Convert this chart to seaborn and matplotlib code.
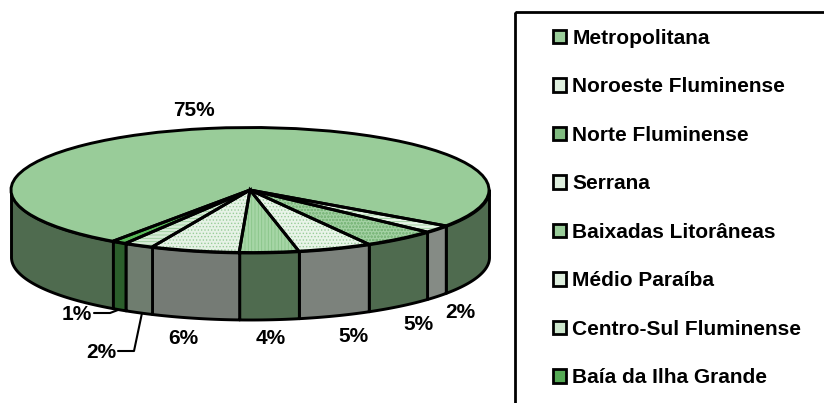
import numpy as np
import matplotlib
matplotlib.use("Agg")
import matplotlib.pyplot as plt
from matplotlib.patches import Patch, Rectangle
import seaborn as sns

regions = ["Metropolitana", "Noroeste Fluminense", "Norte Fluminense", "Serrana",
           "Baixadas Litorâneas", "Médio Paraíba", "Centro-Sul Fluminense", "Baía da Ilha Grande"]
shares = [75, 2, 5, 5, 4, 6, 2, 1]
share_labels = ["75%", "2%", "5%", "5%", "4%", "6%", "2%", "1%"]
top_colors = ["#99CC99", "#E6F4E6", "#A3D1A3", "#E8F4E8", "#A6D6A6", "#E6F2E6", "#D6EBD6", "#5ABB5A"]
side_colors = ["#4F6B4F", "#858B85", "#4F6B4F", "#7C827C", "#4F6B4F", "#757B75", "#6F7D6F", "#2B5E2B"]
top_hatches = [None, "-----", "ooooo", ".....", "|||||", ".....", "-----", None]
hatch_colors = ["#99CC99", "#99CC99", "#7DB87D", "#99CC99", "#88C488", "#99CC99", "#99CC99", "#3C9C3C"]
handle_colors = ["#99CC99", "#DDEEDD", "#80BB80", "#DDEEDD", "#99CC99", "#DDEEDD", "#CCE6CC", "#55AA55"]
label_xy = [(194, 110), (460, 313), (418, 325), (353, 336), (271, 339), (183, 338), (101, 352), (77, 314)]

W, H = 824, 403
CX, CY, RX, RY, DEPTH = 250, 190, 239, 62.5, 67
START = -125
EDGE = 2.1

sns.set_theme(style="white")
plt.rcParams["font.family"] = ["Liberation Sans"]
plt.rcParams["font.weight"] = "bold"
plt.rcParams["hatch.linewidth"] = 0.6

fig = plt.figure(figsize=(W / 100, H / 100), dpi=100, facecolor="white")
ax = fig.add_axes([0, 0, 1, 1])

# side wall, from the same slice shares
depth = DEPTH / RY
cum = np.cumsum([0] + shares) * 3.6
for i, s in enumerate(shares):
    a0, a1 = START - cum[i], START - cum[i + 1]   # clockwise
    for k in (0, -360):
        hi = min(a0, 0 + k)
        lo = max(a1, -180 + k)
        if hi <= lo:
            continue
        t = np.radians(np.linspace(lo, hi, 80))
        ax.fill_between(np.cos(t), np.sin(t), np.sin(t) - depth,
                        facecolor=side_colors[i], edgecolor="black", linewidth=EDGE, zorder=1)

# top face
wedges, _ = ax.pie(shares, colors=top_colors, startangle=START, counterclock=False,
                   wedgeprops=dict(linewidth=0))
hatched, _ = ax.pie(shares, colors=top_colors, startangle=START, counterclock=False,
                    wedgeprops=dict(linewidth=0))
for w, h, c in zip(hatched, top_hatches, hatch_colors):
    w.set_facecolor("none")
    w.set_edgecolor(c)
    w.set_hatch(h)
    w.set_linewidth(0)
outline, _ = ax.pie(shares, startangle=START, counterclock=False,
                    wedgeprops=dict(linewidth=EDGE, edgecolor="black", facecolor="none"))
for group in (wedges, hatched, outline):
    for w in group:
        w.set_zorder(3)
ax.set_aspect("auto")
ax.set_xlim(-CX / RX, (W - CX) / RX)
ax.set_ylim(-(H - CY) / RY, CY / RY)
ax.axis("off")

# overlay in pixel units for labels and legend
ov = fig.add_axes([0, 0, 1, 1], facecolor="none")
ov.set_xlim(0, W)
ov.set_ylim(H, 0)
ov.axis("off")
FS = 15
for txt, (x, y) in zip(share_labels, label_xy):
    ov.text(x, y, txt, ha="center", va="center", fontsize=FS, fontweight="bold", color="black")
ov.plot([94, 110, 118], [313, 313, 310], color="black", lw=1.5)
ov.plot([118, 134, 142], [351, 351, 313], color="black", lw=1.5)

ov.add_patch(Rectangle((515, 12), 400, 500, facecolor="none", edgecolor="black", linewidth=2.0))
handles = [Patch(facecolor=c, edgecolor="black", linewidth=2.0) for c in handle_colors]
leg = ov.legend(handles, regions, loc="upper left", bbox_to_anchor=(553 / W, 1 - 29 / H),
                bbox_transform=fig.transFigure, frameon=False, fontsize=FS,
                borderpad=0, borderaxespad=0, handlelength=0.62, handleheight=0.62,
                handletextpad=0.3, labelspacing=1.415, labelcolor="black")
for t in leg.get_texts():
    t.set_fontweight("bold")

fig.savefig("out.png", dpi=100, facecolor="white")
